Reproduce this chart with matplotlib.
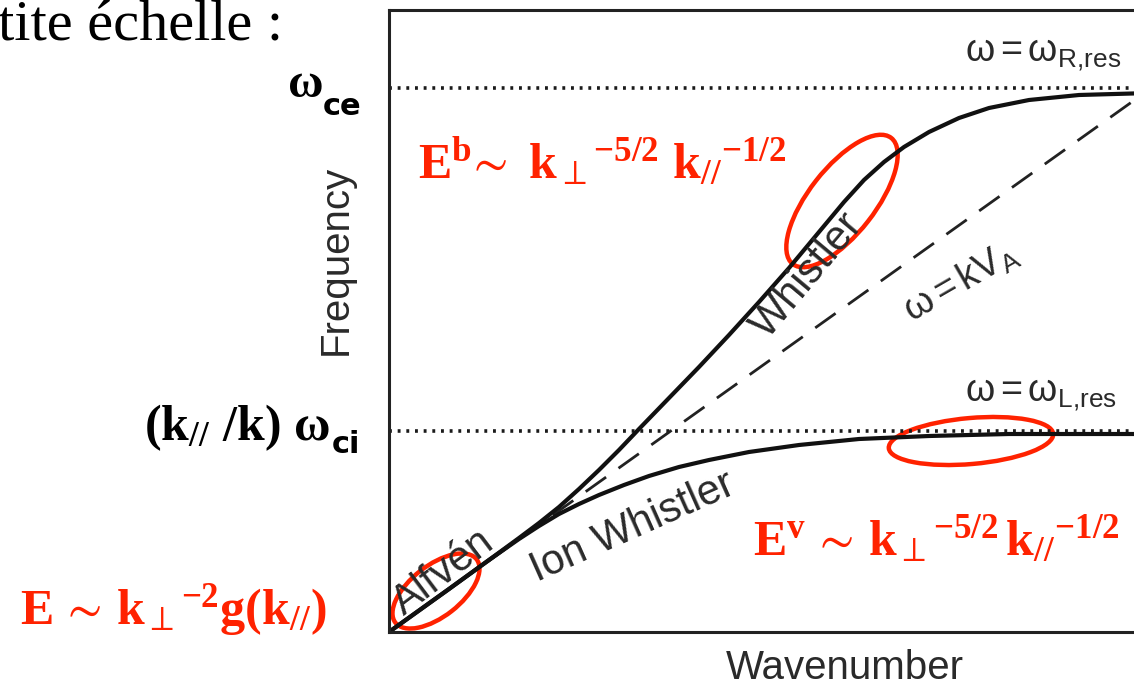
import matplotlib
matplotlib.use('Agg')
import matplotlib.pyplot as plt
from matplotlib.patches import Ellipse

plt.rcParams['mathtext.fontset'] = 'custom'
plt.rcParams['mathtext.rm'] = 'Liberation Serif:bold'
plt.rcParams['mathtext.it'] = 'Liberation Serif:italic:bold'
plt.rcParams['mathtext.bf'] = 'Liberation Serif:bold'
plt.rcParams['mathtext.sf'] = 'Liberation Sans'
plt.rcParams['mathtext.fallback'] = 'stix'

# curves (units: pixels from the lower left corner of the frame)
k_whistler = [0, 60, 100, 130, 150, 170, 190, 210, 230, 250, 280, 310, 340, 370, 400,
              430, 455, 475, 495, 515, 540, 570, 600, 640, 690, 761]
w_whistler = [0, 43, 72, 94, 109, 125, 143, 162, 182, 203, 234, 265, 297, 330, 364,
              400, 430, 452, 470, 485, 500, 514, 524, 532, 537, 539]
k_ion = [0, 60, 100, 130, 150, 170, 190, 210, 235, 260, 290, 320, 360, 410, 470, 540,
         620, 700, 761]
w_ion = [0, 43, 72, 93, 106, 118, 128, 137, 147, 156, 165, 172, 180, 187, 193, 196,
         198, 198, 198]
k_alfven = [0, 761]
w_alfven = [0, 543]
w_R_res = 544
w_L_res = 201

# red circled regions: centre k, centre w, width, height, angle
circles = [(453, 431, 160, 66, 52),
           (582, 191, 165, 46, 5),
           (47, 41, 103, 51, 38)]

red = '#ff2200'
grey = '#2a2a2a'

fig = plt.figure(figsize=(11.34, 6.89), dpi=100)
ax = fig.add_axes([389 / 1134, 57 / 689, 761 / 1134, 622 / 689])
ax.set_xlim(0, 761)
ax.set_ylim(0, 622)
ax.set_xticks([])
ax.set_yticks([])
for side in ['left', 'bottom', 'top']:
    ax.spines[side].set_linewidth(2.2)
    ax.spines[side].set_color('#222222')
ax.spines['right'].set_visible(False)

ax.axhline(w_R_res, color='#1a1a1a', lw=2.6, linestyle=(0, (0.8, 1.6)))
ax.axhline(w_L_res, color='#1a1a1a', lw=2.6, linestyle=(0, (0.8, 1.6)))
ax.plot(k_alfven, w_alfven, color='#222222', lw=2, linestyle=(0, (9, 5.5)))
ax.plot(k_whistler, w_whistler, color='#111111', lw=3, solid_joinstyle='round')
ax.plot(k_ion, w_ion, color='#111111', lw=3, solid_joinstyle='round')

sans = 'Liberation Sans'
ax.text(54, 60, 'Alfvén', rotation=37, fontsize=30, family=sans, color=grey,
        ha='center', va='center', rotation_mode='anchor')
ax.text(244, 105, 'Ion Whistler', rotation=24, fontsize=30, family=sans, color=grey,
        ha='center', va='center', rotation_mode='anchor')
ax.text(419, 357, 'Whistler', rotation=50, fontsize=30, family=sans, color=grey,
        ha='center', va='center', rotation_mode='anchor')
ax.text(572, 350, r'$\mathsf{\omega=kV_A}$', rotation=30, fontsize=27, color=grey,
        ha='center', va='center', rotation_mode='anchor')
ax.text(576, 571, r'$\mathsf{\omega=\omega_{R{,}res}}$', fontsize=27, color=grey,
        ha='left', va='baseline')
ax.text(576, 231, r'$\mathsf{\omega=\omega_{L{,}res}}$', fontsize=27, color=grey,
        ha='left', va='baseline')
ax.text(-53, 372, 'Frequency', rotation=90, fontsize=29, family=sans, color=grey,
        ha='center', va='center')
ax.text(456, -36, 'Wavenumber', fontsize=29, family=sans, color=grey,
        ha='center', va='center', clip_on=False)

# black labels on the left
ax.text(-391, 592, 'tite échelle :', fontsize=42, family='Liberation Serif',
        color='black', ha='left', va='baseline')
ax.text(-101, 535, 'ω', fontsize=35, family='Liberation Serif', weight='bold',
        color='black', ha='left', va='baseline')
ax.text(-66, 517, 'ce', fontsize=22, family='DejaVu Sans', weight='bold',
        color='black', ha='left', va='baseline')
ax.text(-59, 192, r'$\mathrm{(k_{//}\ /k)\ \omega}$', fontsize=36, color='black',
        ha='right', va='baseline')
ax.text(-57, 179, 'ci', fontsize=22, family='DejaVu Sans', weight='bold',
        color='black', ha='left', va='baseline')

# red spectra
ax.text(29, 454, r'$\mathrm{E^b\!\sim\ k_\perp{}^{-5/2}\ k_{//}{}^{-1/2}}$', fontsize=36,
        color=red, ha='left', va='baseline')
ax.text(364, 77, r'$\mathrm{E^v\,\sim\,k_\perp{}^{-5/2}\,k_{//}{}^{-1/2}}$', fontsize=36,
        color=red, ha='left', va='baseline')
ax.text(-369, 8, r'$\mathrm{E\,\sim\,k_\perp{}^{-2}g(k_{//})}$', fontsize=36,
        color=red, ha='left', va='baseline')

for cx, cy, w, h, a in circles:
    ax.add_patch(Ellipse((cx, cy), w, h, angle=a, fill=False, edgecolor=red,
                         lw=3.2, clip_on=False))

fig.savefig('out.png', dpi=100)
